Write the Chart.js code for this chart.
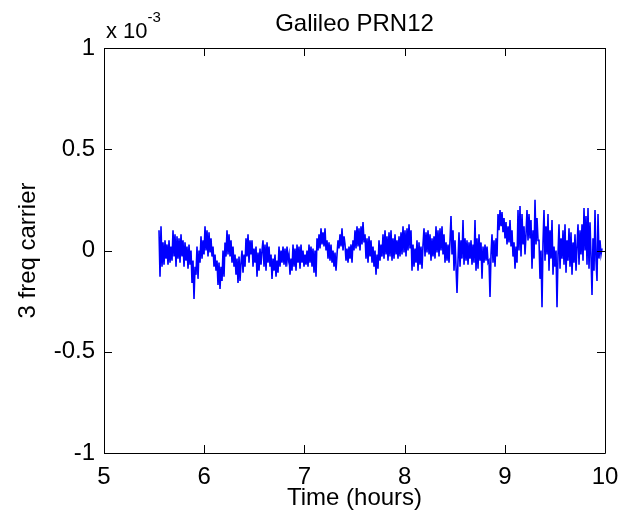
<!DOCTYPE html>
<html>
<head>
<meta charset="utf-8">
<script src="https://cdn.jsdelivr.net/npm/chart.js@4.4.1/dist/chart.umd.min.js"></script>
<style>
	html, body { margin: 0; padding: 0; background: #fff; }
	#wrap { width: 620px; height: 529px; }
</style>
</head>
<body>
<div id="wrap"><canvas id="chart" width="620" height="529"></canvas></div>
<script>
// Galileo PRN12, 3 freq carrier combination (units of 1e-3)
const title = "Galileo PRN12";
const xLabel = "Time (hours)";
const yLabel = "3 freq carrier";
const xTicks = [5, 6, 7, 8, 9, 10];
const yTicks = [-1, -0.5, 0, 0.5, 1];

// sample start and spacing (hours)
const startHour = 5.549;
const stepHour = 0.00998;

// values, in x 10^-3
const carrier = [
	0.10, -0.13, 0.12, -0.08, 0.04, -0.07, 0.05, -0.04, 0.03, -0.07,
	0.05, -0.06, 0.02, -0.05, 0.10, -0.03, 0.08, -0.08, 0.07, -0.04,
	0.06, -0.06, 0.08, -0.03, 0.05, -0.08, 0.04, -0.05, 0.02, -0.09,
	0.03, -0.07, 0.00, -0.16, -0.05, -0.24, -0.08, -0.12, 0.02, -0.14,
	0.00, -0.06, 0.07, -0.04, 0.05, -0.02, 0.12, 0.00, 0.10, -0.03,
	0.09, -0.01, 0.06, -0.03, 0.02, -0.08, -0.02, -0.10, -0.05, -0.17,
	-0.06, -0.19, -0.08, -0.15, 0.00, -0.13, 0.04, -0.03, 0.10, -0.02,
	0.08, -0.03, 0.05, -0.06, 0.02, -0.08, -0.02, -0.12, -0.04, -0.16,
	-0.03, -0.15, -0.06, 0.00, -0.11, -0.02, -0.08, 0.06, -0.03, 0.08,
	-0.06, 0.05, -0.02, 0.05, -0.08, 0.01, -0.06, 0.02, -0.13, -0.01,
	-0.10, 0.01, -0.07, 0.00, 0.05, -0.08, 0.03, -0.10, 0.04, -0.06,
	0.02, -0.08, -0.02, -0.14, -0.04, -0.10, -0.02, -0.13, -0.05, -0.11,
	0.02, -0.08, 0.00, -0.06, 0.02, -0.07, 0.01, -0.08, 0.02, -0.05,
	-0.02, -0.12, -0.04, -0.10, 0.03, -0.08, 0.01, -0.10, 0.03, -0.06,
	0.02, -0.09, 0.03, -0.06, 0.00, -0.08, -0.02, -0.07, 0.00, -0.08,
	0.03, -0.06, 0.02, -0.08, 0.01, -0.11, 0.00, -0.13, 0.06, 0.00,
	0.08, 0.01, 0.11, 0.03, 0.09, 0.02, 0.11, 0.00, 0.05, -0.04,
	0.04, -0.05, 0.03, -0.06, 0.00, -0.08, -0.01, -0.10, -0.02, 0.05,
	0.01, 0.08, 0.02, 0.11, 0.00, 0.07, 0.03, -0.05, 0.01, -0.06,
	0.02, -0.04, 0.03, -0.06, 0.05, 0.00, 0.10, 0.01, 0.12, 0.02,
	0.11, 0.00, 0.12, 0.03, 0.14, 0.04, 0.08, -0.04, 0.06, -0.06,
	0.07, -0.03, 0.05, -0.06, 0.02, -0.08, 0.00, -0.12, -0.02, -0.09,
	0.05, -0.05, 0.03, -0.03, 0.08, -0.04, 0.10, -0.02, 0.07, -0.05,
	0.09, -0.03, 0.10, -0.05, 0.06, -0.04, 0.08, -0.02, 0.05, -0.04,
	0.07, -0.03, 0.09, -0.02, 0.12, -0.01, 0.10, -0.03, 0.11, 0.00,
	0.13, 0.01, 0.10, -0.10, 0.03, -0.08, 0.01, -0.06, 0.05, -0.10,
	0.04, -0.07, 0.02, -0.09, 0.03, 0.11, -0.03, 0.09, -0.01, 0.10,
	-0.02, 0.08, -0.05, 0.06, -0.03, 0.07, -0.04, 0.12, -0.01, 0.10,
	-0.03, 0.11, 0.00, 0.12, -0.02, 0.08, -0.06, 0.04, -0.05, 0.03,
	-0.06, 0.05, 0.17, -0.02, 0.10, -0.10, 0.05, -0.08, -0.21, -0.05,
	0.09, -0.08, 0.05, -0.04, 0.15, -0.07, 0.06, -0.05, 0.05, -0.07,
	0.04, -0.04, 0.05, -0.07, 0.03, -0.06, 0.15, -0.10, 0.06, -0.09,
	0.08, -0.05, 0.04, -0.14, 0.02, -0.06, 0.03, -0.05, 0.02, -0.06,
	-0.05, -0.23, -0.02, 0.08, -0.06, 0.05, -0.08, 0.06, -0.03, 0.18,
	0.10, 0.20, 0.12, 0.19, 0.09, 0.16, 0.06, 0.14, 0.03, 0.12,
	0.04, 0.15, 0.02, 0.10, -0.03, 0.04, -0.09, 0.02, -0.06, 0.20,
	0.00, 0.22, -0.03, 0.18, 0.03, 0.12, -0.02, 0.08, 0.20, 0.05,
	0.18, 0.06, 0.15, -0.09, 0.10, -0.04, 0.25, 0.03, 0.16, 0.05,
	0.05, -0.14, 0.00, -0.28, 0.04, 0.20, -0.05, 0.12, -0.02, 0.18,
	-0.10, 0.10, -0.04, 0.15, -0.12, 0.02, -0.08, 0.00, -0.28, -0.02,
	0.13, -0.09, 0.06, -0.04, 0.10, -0.07, 0.13, -0.11, 0.05, -0.05,
	0.11, -0.08, 0.09, -0.12, 0.04, -0.06, 0.08, -0.10, 0.02, 0.13,
	-0.07, 0.10, -0.02, 0.13, -0.05, 0.21, 0.00, 0.17, -0.07, 0.21,
	-0.09, 0.14, -0.03, -0.22, 0.06, -0.10, 0.20, -0.05, -0.15, 0.18,
	-0.04, 0.05, -0.02, 0.01
];

const FONT = "'Liberation Sans', Arial, sans-serif";
const points = carrier.map((v, i) => ({x: startHour + i * stepHour, y: v}));

// matlab style box, inward ticks and labels
const matlabFrame = {
	id: "matlabFrame",
	afterDraw(chart) {
		const {ctx, chartArea: a, scales} = chart;
		const tl = 8;
		ctx.save();
		ctx.strokeStyle = "#000";
		ctx.lineWidth = 1;
		ctx.beginPath();
		ctx.rect(a.left + 0.5, a.top + 0.5, a.right - a.left, a.bottom - a.top);
		xTicks.forEach(t => {
			const px = Math.round(scales.x.getPixelForValue(t)) + 0.5;
			ctx.moveTo(px, a.bottom); ctx.lineTo(px, a.bottom - tl);
			ctx.moveTo(px, a.top); ctx.lineTo(px, a.top + tl);
		});
		yTicks.forEach(t => {
			const py = Math.round(scales.y.getPixelForValue(t)) + 0.5;
			ctx.moveTo(a.left, py); ctx.lineTo(a.left + tl, py);
			ctx.moveTo(a.right, py); ctx.lineTo(a.right - tl, py);
		});
		ctx.stroke();

		ctx.fillStyle = "#000";
		ctx.textBaseline = "middle";
		ctx.textAlign = "center";
		ctx.font = "24px " + FONT;
		ctx.fillText(title, (a.left + a.right) / 2, 24);
		ctx.fillText(xLabel, (a.left + a.right) / 2, 498);

		ctx.save();
		ctx.translate(28, (a.top + a.bottom) / 2);
		ctx.rotate(-Math.PI / 2);
		ctx.fillText(yLabel, 0, 0);
		ctx.restore();

		// exponent
		ctx.textAlign = "left";
		ctx.textBaseline = "alphabetic";
		ctx.font = "22px " + FONT;
		ctx.fillText("x 10", a.left + 2, 38);
		const w = ctx.measureText("x 10").width;
		ctx.font = "15px " + FONT;
		ctx.fillText("-3", a.left + 2 + w, 22);
		ctx.restore();
	}
};

new Chart(document.getElementById("chart"), {
	type: "line",
	data: {
		datasets: [{
			label: yLabel,
			data: points,
			borderColor: "#0000ff",
			borderWidth: 1.6,
			pointRadius: 0,
			tension: 0,
			fill: false,
		}],
	},
	options: {
		responsive: false,
		animation: false,
		layout: {padding: {left: 0, top: 48, right: 15, bottom: 0}},
		plugins: {
			legend: {display: false},
			title: {display: false},
			tooltip: {enabled: false},
		},
		scales: {
			x: {
				type: "linear",
				min: 5,
				max: 10,
				grid: {display: false, drawTicks: false},
				border: {display: false},
				afterBuildTicks: s => { s.ticks = xTicks.map(v => ({value: v})); },
				afterFit: s => { s.height = 76; s.paddingLeft = 0; s.paddingRight = 0; },
				ticks: {
					color: "#000",
					padding: 10,
					maxRotation: 0,
					font: {family: FONT, size: 24},
					callback: v => String(v),
				},
			},
			y: {
				min: -1,
				max: 1,
				grid: {display: false, drawTicks: false},
				border: {display: false},
				afterBuildTicks: s => { s.ticks = yTicks.map(v => ({value: v})); },
				afterFit: s => { s.width = 104; s.paddingTop = 0; s.paddingBottom = 0; },
				ticks: {
					color: "#000",
					padding: 9,
					font: {family: FONT, size: 24},
					callback: v => String(v),
				},
			},
		},
	},
	plugins: [matlabFrame],
});
</script>
</body>
</html>
